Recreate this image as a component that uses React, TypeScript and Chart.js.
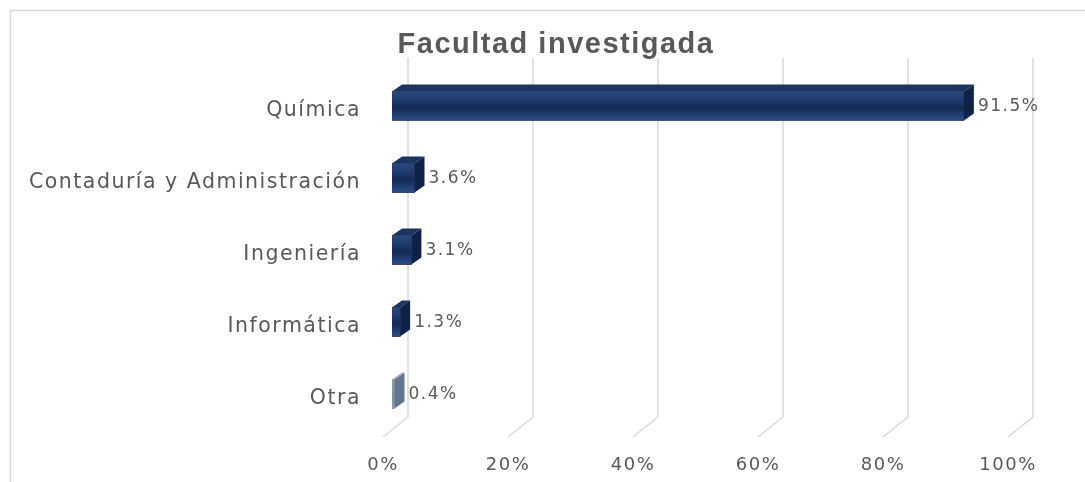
import React, { useEffect, useRef } from 'react';
import { Chart, registerables } from 'chart.js';

Chart.register(...registerables);

const chartTitle = 'Facultad investigada';
const categories = ['Química', 'Contaduría y Administración', 'Ingeniería', 'Informática', 'Otra'];
const percentages = [91.5, 3.6, 3.1, 1.3, 0.4];
const xTickValues = [0, 20, 40, 60, 80, 100];

const TEXT = '#595959';
const GRID = '#d9d9d9';
const DX = 10; // 3D depth x
const DY = 7; // 3D depth y

type Face = { top: string; side: string; g0: string; g1: string; g2: string };
const navy: Face = { top: '#1b3461', side: '#0e2147', g0: '#2a4b82', g1: '#152a54', g2: '#2b4c84' };
const grey: Face = { top: '#a3afc3', side: '#66758f', g0: '#8e9db5', g1: '#7c8ca6', g2: '#909fb7' };
const faces: Face[] = [navy, navy, navy, navy, grey];

const framePlugin = {
  id: 'frame',
  beforeDraw(chart: any) {
    const ctx = chart.ctx;
    ctx.save();
    ctx.fillStyle = '#ffffff';
    ctx.fillRect(0, 0, chart.width, chart.height);
    ctx.strokeStyle = GRID;
    ctx.lineWidth = 1.5;
    ctx.strokeRect(10.5, 10.5, chart.width + 20, chart.height + 20);
    ctx.restore();
    ctx.letterSpacing = '1.5px';
  },
  afterDraw(chart: any) {
    const ctx = chart.ctx;
    ctx.save();
    ctx.letterSpacing = '1.5px';
    ctx.fillStyle = TEXT;
    ctx.font = 'bold 29px "Liberation Sans", Arial';
    ctx.textAlign = 'center';
    ctx.textBaseline = 'middle';
    ctx.fillText(chartTitle, 556, 45);
    ctx.restore();
  },
};

const gridPlugin = {
  id: 'grid3d',
  beforeDatasetsDraw(chart: any) {
    const ctx = chart.ctx;
    const xs = chart.scales.x;
    const area = chart.chartArea;
    ctx.save();
    ctx.strokeStyle = GRID;
    ctx.lineWidth = 1.5;
    xTickValues.forEach((v) => {
      const px = xs.getPixelForValue(v);
      ctx.beginPath();
      ctx.moveTo(px + 16, area.top - 12);
      ctx.lineTo(px + 16, area.bottom - 13);
      ctx.lineTo(px - 9, area.bottom + 7);
      ctx.stroke();
    });
    ctx.restore();
  },
};

const bar3dPlugin = {
  id: 'bar3d',
  afterDatasetsDraw(chart: any) {
    const ctx = chart.ctx;
    const meta = chart.getDatasetMeta(0);
    ctx.save();
    meta.data.forEach((el: any, i: number) => {
      const { x, y, base, height } = el.getProps(['x', 'y', 'base', 'height'], true);
      const f = faces[i];
      const top = y - height / 2;
      const bottom = y + height / 2;
      // front
      const g = ctx.createLinearGradient(0, top, 0, bottom);
      g.addColorStop(0, f.g0);
      g.addColorStop(0.55, f.g1);
      g.addColorStop(1, f.g2);
      ctx.fillStyle = g;
      ctx.fillRect(base, top, x - base, height);
      // top
      ctx.fillStyle = f.top;
      ctx.beginPath();
      ctx.moveTo(base, top);
      ctx.lineTo(base + DX, top - DY);
      ctx.lineTo(x + DX, top - DY);
      ctx.lineTo(x, top);
      ctx.closePath();
      ctx.fill();
      // side
      ctx.fillStyle = f.side;
      ctx.beginPath();
      ctx.moveTo(x, top);
      ctx.lineTo(x + DX, top - DY);
      ctx.lineTo(x + DX, bottom - DY);
      ctx.lineTo(x, bottom);
      ctx.closePath();
      ctx.fill();
      // value label
      ctx.fillStyle = TEXT;
      ctx.font = '17px "DejaVu Sans"';
      ctx.textAlign = 'left';
      ctx.textBaseline = 'middle';
      ctx.fillText(percentages[i].toFixed(1) + '%', x + DX + 4, y + 1);
    });
    ctx.restore();
  },
};

export default function App() {
  const ref = useRef<HTMLCanvasElement>(null);
  useEffect(() => {
    if (!ref.current) return;
    const chart = new Chart(ref.current, {
      type: 'bar',
      data: {
        labels: categories,
        datasets: [
          {
            data: percentages,
            backgroundColor: faces.map((f) => f.g1),
            borderWidth: 0,
            barThickness: 29,
          },
        ],
      },
      options: {
        indexAxis: 'y',
        responsive: false,
        animation: false,
        layout: { padding: { top: 70, right: 68, bottom: 0, left: 0 } },
        plugins: {
          legend: { display: false },
          tooltip: { enabled: false },
          title: { display: false },
        },
        scales: {
          x: {
            min: 0,
            max: 100,
            afterBuildTicks: (scale: any) => {
              scale.ticks = xTickValues.map((v) => ({ value: v }));
            },
            afterFit: (scale: any) => {
              scale.height = 52;
            },
            grid: { display: false, drawTicks: false },
            border: { display: false },
            ticks: {
              color: TEXT,
              font: { family: '"DejaVu Sans"', size: 18 },
              labelOffset: -9,
              padding: 25,
              maxRotation: 0,
              callback: (v: any) => v + '%',
            },
          },
          y: {
            afterFit: (scale: any) => {
              scale.width = 392;
            },
            grid: { display: false, drawTicks: false },
            border: { display: false },
            ticks: {
              color: TEXT,
              font: { family: '"DejaVu Sans"', size: 20.5 },
              padding: 31,
              labelOffset: 5,
            },
          },
        },
      },
      plugins: [framePlugin, gridPlugin, bar3dPlugin],
    });
    return () => chart.destroy();
  }, []);
  return (
    <div style={{ position: 'absolute', left: 0, top: 0, width: 1085, height: 482 }}>
      <canvas ref={ref} width={1085} height={482} style={{ display: 'block' }} />
    </div>
  );
}
